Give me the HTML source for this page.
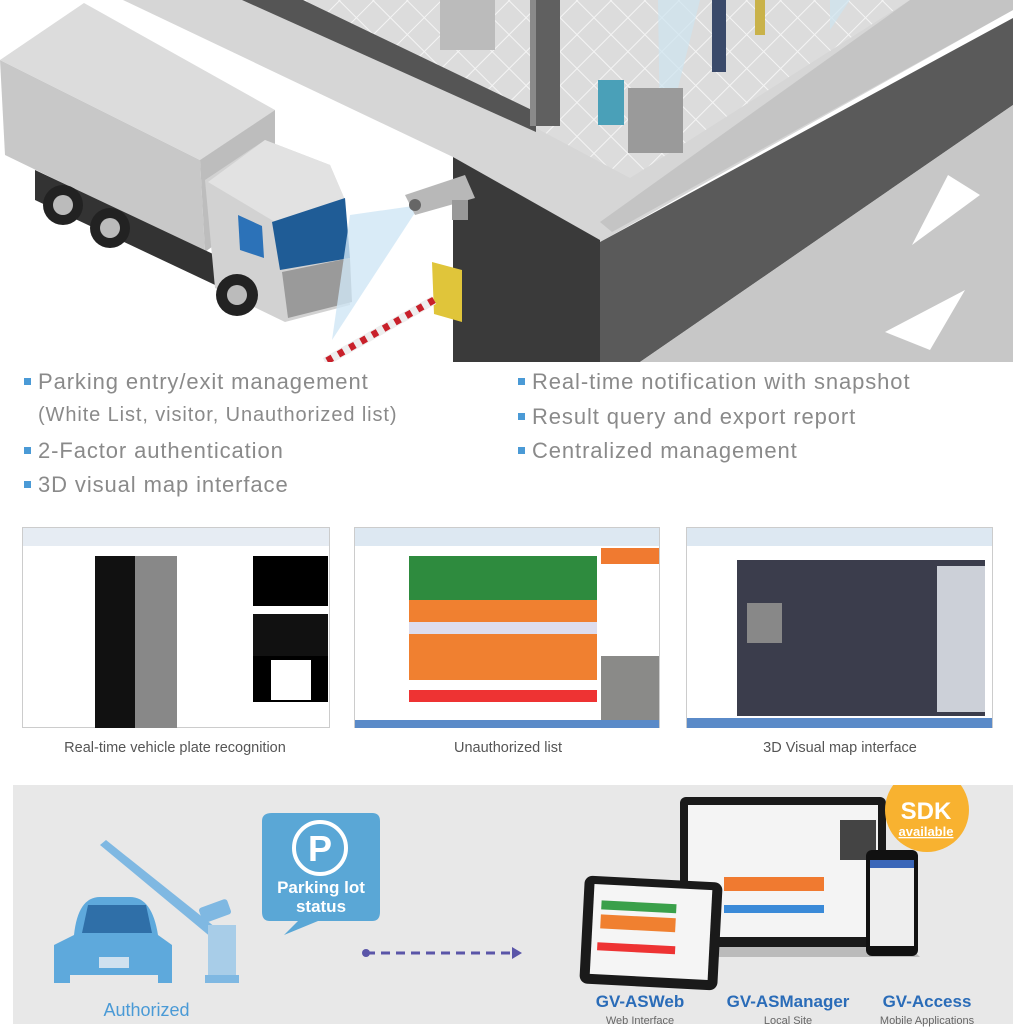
<!DOCTYPE html>
<html><head><meta charset="utf-8"><style>
body{margin:0;width:1013px;height:1024px;overflow:hidden;background:#fff;font-family:"Liberation Sans",sans-serif;position:relative}
.a{position:absolute}
.b{position:absolute;font-size:22px;color:#8a8a8a;letter-spacing:0.9px;white-space:nowrap}
.b i{display:inline-block;width:7px;height:7px;background:#4a9ad6;margin-right:7px;vertical-align:middle;position:relative;top:-2px}
.cap{position:absolute;font-size:14.5px;color:#555;text-align:center;width:320px}
</style></head><body>
<svg class="a" style="left:0;top:0" width="1013" height="362">
<defs>
<pattern id="g" width="24" height="24" patternUnits="userSpaceOnUse" patternTransform="rotate(45)">
<rect width="24" height="24" fill="#dcdcdc"/>
<path d="M0,0H24M0,0V24" stroke="#f4f4f4" stroke-width="2"/>
</pattern>
</defs>
<rect width="1013" height="362" fill="#fff"/>
<polygon points="123,0 1013,0 1013,10 600,242 453,157" fill="#d6d6d6"/>
<polygon points="303,0 910,0 630,178 536,128" fill="url(#g)"/>
<polygon points="242,0 303,0 536,112 536,132" fill="#555"/>
<rect x="530" y="0" width="30" height="126" fill="#606060"/>
<rect x="530" y="0" width="6" height="126" fill="#8a8a8a"/>
<polygon points="910,0 1013,0 1013,10 612,232 600,222" fill="#c4c4c4"/>
<polygon points="453,157 600,240 600,362 453,362" fill="#3a3a3a"/>
<polygon points="600,242 1013,18 1013,105 640,362 600,362" fill="#5a5a5a"/>
<polygon points="640,362 1013,105 1013,362" fill="#c7c7c7"/>
<polygon points="948,175 980,195 912,245" fill="#fff"/>
<polygon points="965,290 930,350 885,332" fill="#fff"/>
<polygon points="658,0 700,0 670,120 660,140" fill="#cde4f0" opacity=".7"/>
<polygon points="830,0 850,0 830,30" fill="#cde4f0" opacity=".7"/>
<rect x="712" y="0" width="14" height="72" fill="#3a4a6a"/>
<rect x="755" y="0" width="10" height="35" fill="#c9b24a"/>
<rect x="598" y="80" width="26" height="45" fill="#4aa0b8"/>
<rect x="628" y="88" width="55" height="65" fill="#9a9a9a"/>
<rect x="440" y="0" width="55" height="50" fill="#bbb"/>
<!-- truck -->
<polygon points="0,60 200,160 205,252 5,155" fill="#c8c8c8"/>
<polygon points="0,60 84,3 275,110 200,160" fill="#dcdcdc"/>
<polygon points="200,160 275,110 275,200 205,252" fill="#bdbdbd"/>
<polygon points="35,170 230,262 230,292 35,200" fill="#333"/>
<circle cx="63" cy="205" r="20" fill="#222"/><circle cx="63" cy="205" r="10" fill="#bbb"/>
<circle cx="110" cy="228" r="20" fill="#222"/><circle cx="110" cy="228" r="10" fill="#bbb"/>
<polygon points="205,180 265,140 330,165 345,200 350,305 285,322 215,288" fill="#d2d2d2"/>
<polygon points="265,140 330,165 345,200 275,222 208,182" fill="#e2e2e2"/>
<polygon points="272,222 345,198 350,258 280,270" fill="#1f5c96"/>
<polygon points="238,215 262,226 264,258 240,250" fill="#2c72b8"/>
<polygon points="282,272 350,258 352,302 288,318" fill="#9a9a9a"/>
<circle cx="237" cy="295" r="21" fill="#222"/><circle cx="237" cy="295" r="10" fill="#bbb"/>
<polygon points="420,205 350,215 332,340" fill="#cfe6f5" opacity=".8"/>
<polygon points="405,195 465,175 475,198 415,215" fill="#b8b8b8"/>
<circle cx="415" cy="205" r="6" fill="#666"/>
<rect x="452" y="200" width="16" height="20" fill="#999"/>
<polygon points="432,262 462,270 462,322 434,314" fill="#e0c53a"/>
<line x1="434" y1="300" x2="325" y2="362" stroke="#eee" stroke-width="9"/>
<line x1="434" y1="300" x2="325" y2="362" stroke="#c8202a" stroke-width="7" stroke-dasharray="6 7"/>
</svg>
<div class="b" style="left:24px;top:369px"><i></i>Parking entry/exit management</div>
<div class="b" style="left:38px;top:404px;font-size:20px">(White List, visitor, Unauthorized list)</div>
<div class="b" style="left:24px;top:438px"><i></i>2-Factor authentication</div>
<div class="b" style="left:24px;top:472px"><i></i>3D visual map interface</div>
<div class="b" style="left:518px;top:369px"><i></i>Real-time notification with snapshot</div>
<div class="b" style="left:518px;top:404px"><i></i>Result query and export report</div>
<div class="b" style="left:518px;top:438px"><i></i>Centralized management</div>
<!-- screenshot 1 -->
<div class="a" style="left:22px;top:527px;width:308px;height:201px;background:#fff;border:1px solid #ccc;box-sizing:border-box">
<div class="a" style="left:0;top:0;width:306px;height:18px;background:#e6ecf3"></div>
<div class="a" style="left:72px;top:28px;width:40px;height:172px;background:#111"></div>
<div class="a" style="left:112px;top:28px;width:42px;height:172px;background:#888"></div>
<div class="a" style="left:230px;top:28px;width:75px;height:50px;background:#000"></div>
<div class="a" style="left:230px;top:86px;width:75px;height:58px;background:#111"></div>
<div class="a" style="left:230px;top:128px;width:75px;height:46px;background:#000"></div>
<div class="a" style="left:248px;top:132px;width:40px;height:40px;background:#fff"></div>
</div>
<!-- screenshot 2 -->
<div class="a" style="left:354px;top:527px;width:306px;height:201px;background:#fff;border:1px solid #ccc;box-sizing:border-box">
<div class="a" style="left:0;top:0;width:304px;height:18px;background:#dde8f2"></div>
<div class="a" style="left:54px;top:28px;width:188px;height:44px;background:#2e8b3e"></div>
<div class="a" style="left:54px;top:72px;width:188px;height:22px;background:#f08030"></div>
<div class="a" style="left:54px;top:94px;width:188px;height:12px;background:#dde"></div>
<div class="a" style="left:54px;top:106px;width:188px;height:46px;background:#f08030"></div>
<div class="a" style="left:54px;top:162px;width:188px;height:12px;background:#e33"></div>
<div class="a" style="left:246px;top:20px;width:58px;height:16px;background:#f07a30"></div>
<div class="a" style="left:246px;top:128px;width:58px;height:68px;background:#8a8a88"></div>
<div class="a" style="left:0;top:192px;width:304px;height:8px;background:#5a8ac8"></div>
</div>
<!-- screenshot 3 -->
<div class="a" style="left:686px;top:527px;width:307px;height:201px;background:#fff;border:1px solid #ccc;box-sizing:border-box">
<div class="a" style="left:0;top:0;width:305px;height:18px;background:#dde8f2"></div>
<div class="a" style="left:50px;top:32px;width:248px;height:156px;background:#3b3d4c"></div>
<div class="a" style="left:250px;top:38px;width:48px;height:146px;background:#ccd0d8"></div>
<div class="a" style="left:60px;top:75px;width:35px;height:40px;background:#888"></div>
<div class="a" style="left:0;top:190px;width:305px;height:10px;background:#5a8ac8"></div>
</div>
<div class="cap" style="left:15px;top:740px">Real-time vehicle plate recognition</div>
<div class="cap" style="left:348px;top:740px">Unauthorized list</div>
<div class="cap" style="left:680px;top:740px">3D Visual map interface</div>
<!-- bottom panel -->
<div class="a" style="left:13px;top:785px;width:1000px;height:239px;background:#e8e8e8"></div>
<svg class="a" style="left:0;top:785px" width="1013" height="239">
<polygon points="100,60 106,55 225,150 218,158" fill="#7fb8e2"/>
<rect x="208" y="140" width="28" height="58" fill="#a8cde8"/>
<rect x="205" y="190" width="34" height="8" fill="#7fb8e2"/>
<rect x="200" y="118" width="30" height="16" rx="3" fill="#7fb8e2" transform="rotate(-20 215 126)"/>
<path d="M74,150 Q78,112 100,112 L130,112 Q152,112 158,150 L172,160 L172,198 L158,198 L158,190 L70,190 L70,198 L54,198 L54,160Z" fill="#5ea9dc"/>
<polygon points="88,120 146,120 152,148 82,148" fill="#2f6fa8"/>
<rect x="99" y="172" width="30" height="11" fill="#cfe1ef"/>
<path d="M272,28 L372,28 Q380,28 380,36 L380,127 Q380,136 372,136 L318,136 L284,150 L298,136 L270,136 Q262,136 262,127 L262,36 Q262,28 272,28Z" fill="#5aa7d6"/>
<circle cx="320" cy="63" r="26" fill="none" stroke="#fff" stroke-width="4"/>
<text x="320" y="76" text-anchor="middle" font-size="36" font-weight="bold" fill="#fff" font-family="Liberation Sans">P</text>
<text x="321" y="108" text-anchor="middle" font-size="17" font-weight="bold" fill="#fff" font-family="Liberation Sans">Parking lot</text>
<text x="321" y="127" text-anchor="middle" font-size="17" font-weight="bold" fill="#fff" font-family="Liberation Sans">status</text>
<circle cx="366" cy="168" r="4" fill="#5a55a8"/>
<line x1="366" y1="168" x2="512" y2="168" stroke="#5a55a8" stroke-width="3" stroke-dasharray="9 6"/>
<polygon points="512,162 522,168 512,174" fill="#5a55a8"/>
<rect x="680" y="12" width="206" height="150" rx="6" fill="#1a1a1a"/>
<rect x="688" y="20" width="190" height="132" fill="#f4f4f4"/>
<rect x="724" y="92" width="100" height="14" fill="#f07a30"/>
<rect x="724" y="120" width="100" height="8" fill="#3a8ad8"/>
<rect x="840" y="35" width="36" height="40" fill="#444"/>
<polygon points="660,162 910,162 920,172 650,172" fill="#bbb"/>
<circle cx="927" cy="25" r="42" fill="#f8b230"/>
<text x="926" y="34" text-anchor="middle" font-size="24" font-weight="bold" fill="#fff" font-family="Liberation Sans">SDK</text>
<text x="926" y="51" text-anchor="middle" font-size="13" font-weight="bold" fill="#fff" font-family="Liberation Sans" text-decoration="underline">available</text>
<rect x="866" y="65" width="52" height="106" rx="6" fill="#111"/>
<rect x="870" y="75" width="44" height="86" fill="#eee"/>
<rect x="870" y="75" width="44" height="8" fill="#3a66b8"/>
<rect x="582" y="94" width="138" height="108" rx="8" fill="#1a1a1a" transform="rotate(3 651 148)"/>
<rect x="592" y="102" width="118" height="90" fill="#f5f5f5" transform="rotate(3 651 148)"/>
<rect x="600" y="118" width="75" height="9" fill="#3aa04a" transform="rotate(3 651 148)"/>
<rect x="600" y="132" width="75" height="14" fill="#f08030" transform="rotate(3 651 148)"/>
<rect x="598" y="160" width="78" height="8" fill="#e33" transform="rotate(3 651 148)"/>
</svg>
<div class="a" style="left:0;top:1000px;width:293px;text-align:center;font-size:18px;color:#4a9ad6">Authorized</div>
<div class="a" style="left:585px;top:992px;width:110px;text-align:center;font-size:17px;font-weight:bold;color:#2a6cb8">GV-ASWeb</div>
<div class="a" style="left:718px;top:992px;width:140px;text-align:center;font-size:17px;font-weight:bold;color:#2a6cb8">GV-ASManager</div>
<div class="a" style="left:872px;top:992px;width:110px;text-align:center;font-size:17px;font-weight:bold;color:#2a6cb8">GV-Access</div>
<div class="a" style="left:585px;top:1015px;width:110px;text-align:center;font-size:11px;color:#666">Web Interface</div>
<div class="a" style="left:718px;top:1015px;width:140px;text-align:center;font-size:11px;color:#666">Local Site</div>
<div class="a" style="left:862px;top:1015px;width:130px;text-align:center;font-size:11px;color:#666">Mobile Applications</div>
</body></html>
